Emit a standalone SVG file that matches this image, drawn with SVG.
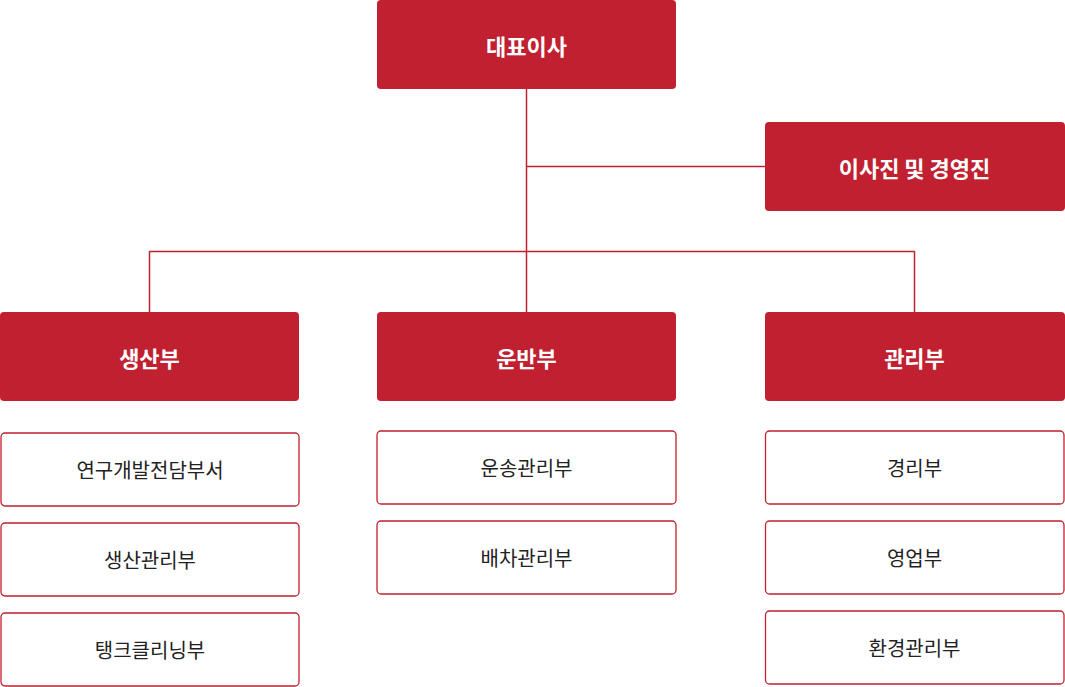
<svg xmlns="http://www.w3.org/2000/svg" width="1065" height="687" viewBox="0 0 1065 687">
<style>
.r{fill:#C0202F}
.w{fill:#fff;stroke:#C0202F;stroke-width:1.3}
.t{font-family:"Noto Sans CJK KR",sans-serif;font-size:22px;font-weight:bold;fill:#fff;text-anchor:middle;dominant-baseline:central}
.s{font-family:"Noto Sans CJK KR",sans-serif;font-size:20px;fill:#222;text-anchor:middle;dominant-baseline:central}
.c{stroke:#C0202F;stroke-width:1.5;fill:none}
</style>
<g id="connectors">
<path class="c" d="M526.5 89V312M526.5 166.5H765M149.5 251.5H914.5M149.5 251V312M914.5 251V312"/>
</g>
<g id="ceo"><rect class="r" x="377" y="0" width="299" height="89" rx="4"/><text class="t" x="526.5" y="44.5">대표이사</text></g>
<g id="board"><rect class="r" x="765" y="122" width="300" height="89" rx="4"/><text class="t" x="914.5" y="166.5">이사진 및 경영진</text></g>
<g id="prod"><rect class="r" x="0" y="312" width="299" height="89" rx="4"/><text class="t" x="149.5" y="356.5">생산부</text></g>
<g id="trans"><rect class="r" x="377" y="312" width="299" height="89" rx="4"/><text class="t" x="526.5" y="356.5">운반부</text></g>
<g id="mgmt"><rect class="r" x="765" y="312" width="300" height="89" rx="4"/><text class="t" x="914.5" y="356.5">관리부</text></g>
<g id="p1"><rect class="w" x="1" y="433" width="298" height="73" rx="4"/><text class="s" x="150" y="469.5">연구개발전담부서</text></g>
<g id="p2"><rect class="w" x="1" y="523" width="298" height="73" rx="4"/><text class="s" x="150" y="559.5">생산관리부</text></g>
<g id="p3"><rect class="w" x="1" y="613" width="298" height="73" rx="4"/><text class="s" x="150" y="649.5">탱크클리닝부</text></g>
<g id="t1"><rect class="w" x="377" y="431" width="299" height="73" rx="4"/><text class="s" x="526.5" y="467.5">운송관리부</text></g>
<g id="t2"><rect class="w" x="377" y="521" width="299" height="73" rx="4"/><text class="s" x="526.5" y="557.5">배차관리부</text></g>
<g id="m1"><rect class="w" x="765.5" y="431" width="298.5" height="73" rx="4"/><text class="s" x="914.5" y="467.5">경리부</text></g>
<g id="m2"><rect class="w" x="765.5" y="521" width="298.5" height="73" rx="4"/><text class="s" x="914.5" y="557.5">영업부</text></g>
<g id="m3"><rect class="w" x="765.5" y="611" width="298.5" height="73" rx="4"/><text class="s" x="914.5" y="647.5">환경관리부</text></g>
</svg>
